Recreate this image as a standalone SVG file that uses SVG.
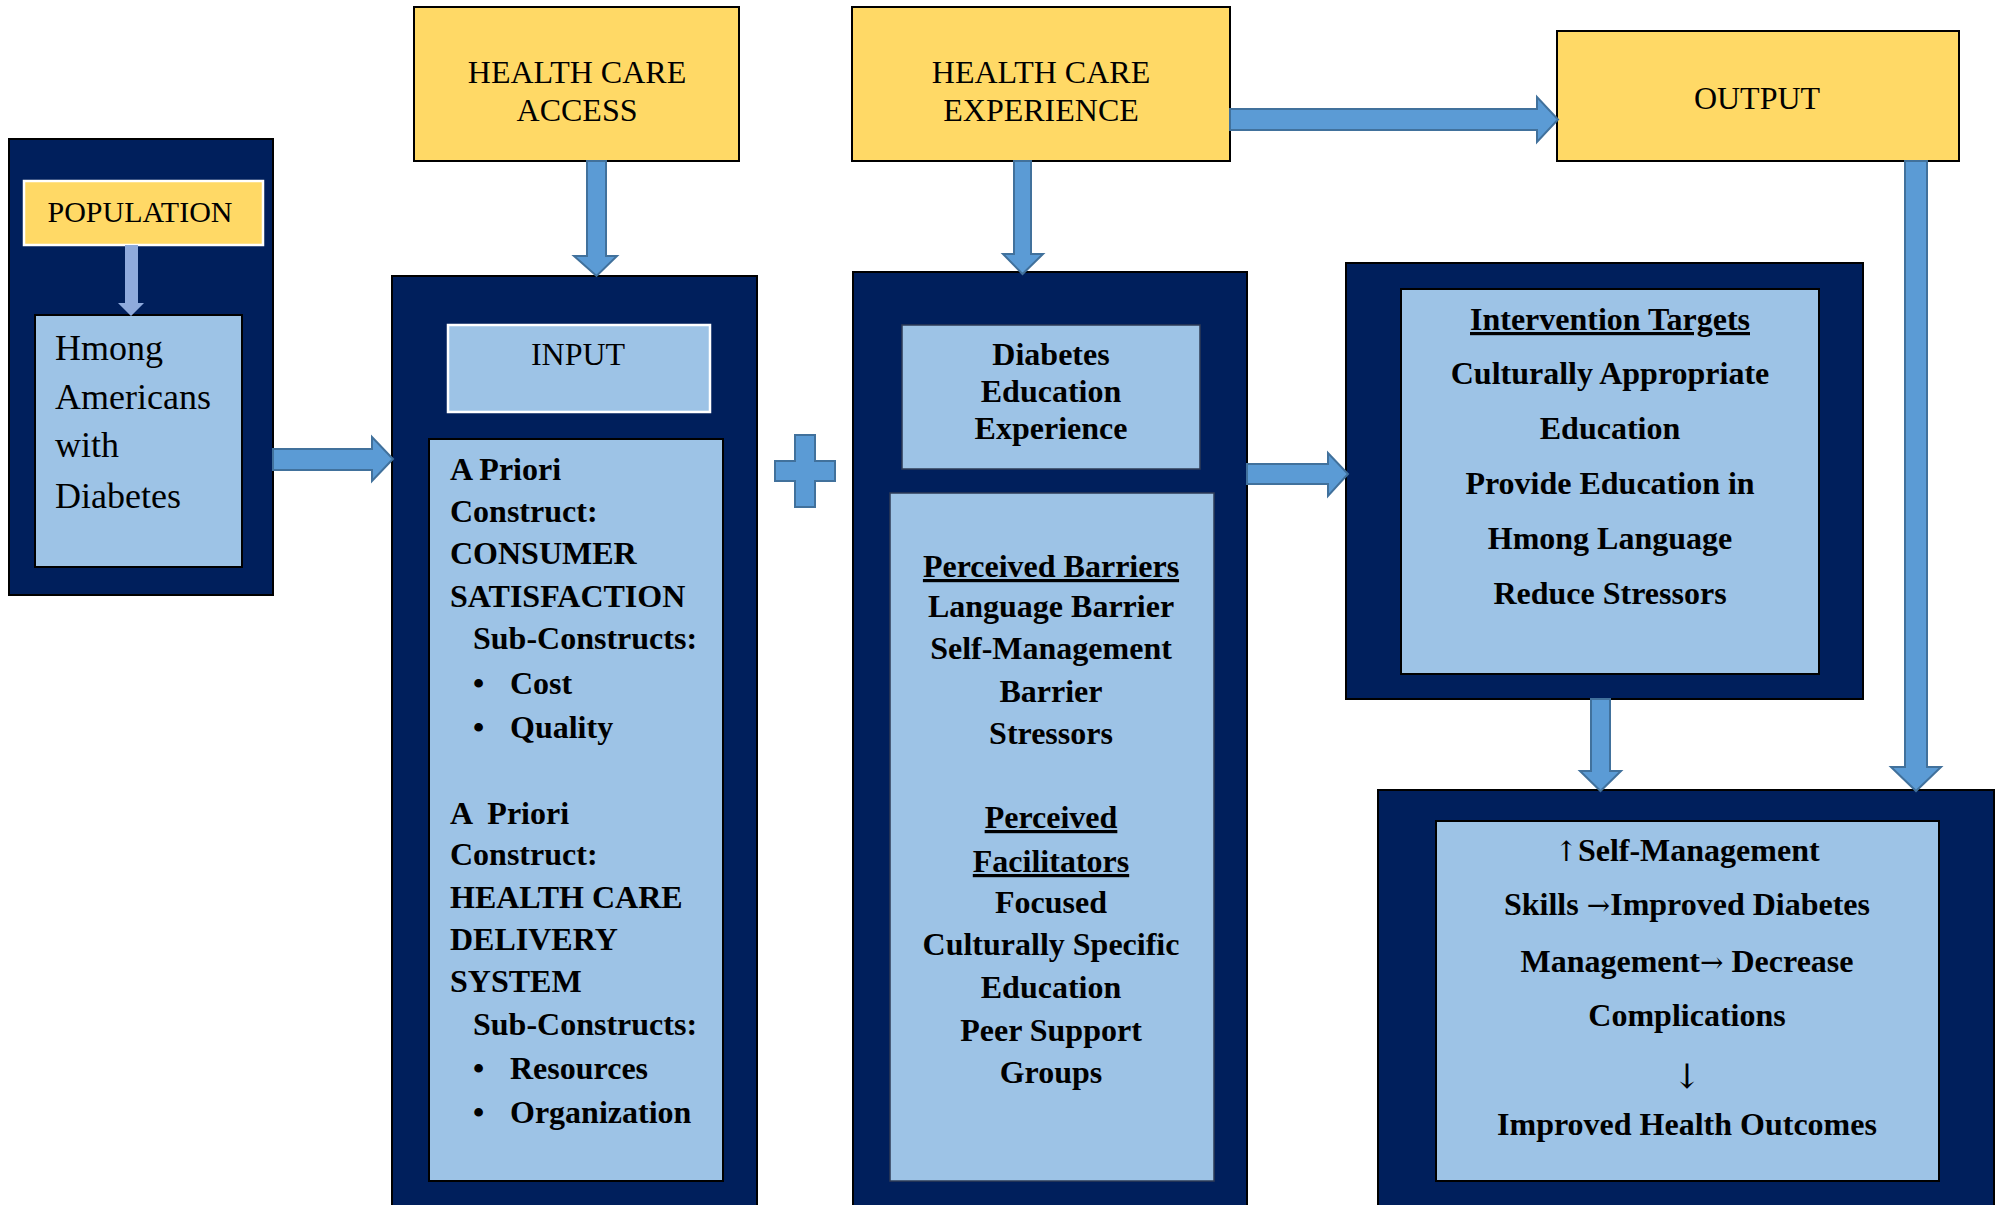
<svg xmlns="http://www.w3.org/2000/svg" width="2001" height="1205" viewBox="0 0 2001 1205">
<style>
.outer{fill:#001F5C;stroke:#000;stroke-width:2}
.inner{fill:#9DC3E6;stroke:#000;stroke-width:2}
.innerw{fill:#9DC3E6;stroke:#fff;stroke-width:2.5}
.yel{fill:#FFD966;stroke:#000;stroke-width:2}
.yelw{fill:#FFD966;stroke:#fff;stroke-width:2.5}
.arr{fill:#5B9BD5;stroke:#41719C;stroke-width:2}
.arrl{fill:#8FAADC}
text{font-family:"Liberation Serif","Times New Roman",serif;fill:#000}
.r{font-size:32px}
.b{font-size:32px;font-weight:bold}
.c{text-anchor:middle}
.u{text-decoration:underline}
.ar{font-family:"DejaVu Serif",serif;font-weight:normal}
</style>
<rect width="2001" height="1205" fill="#fff"/>

<g id="population">
<rect class="outer" x="9" y="139" width="264" height="456"/>
<rect class="yelw" x="24" y="181" width="239" height="64"/>
<text class="c" x="140" y="222" style="font-size:30px">POPULATION</text>
</g>
<g id="hmong">
<rect class="inner" x="35" y="315" width="207" height="252"/>
<text x="55" y="360" style="font-size:36px">Hmong</text>
<text x="55" y="409" style="font-size:36px">Americans</text>
<text x="55" y="457" style="font-size:36px">with</text>
<text x="55" y="508" style="font-size:36px">Diabetes</text>
</g>

<g id="health-care-access">
<rect class="yel" x="414" y="7" width="325" height="154"/>
<text class="r c" x="577" y="83">HEALTH CARE</text>
<text class="r c" x="577" y="121">ACCESS</text>
</g>

<g id="input">
<rect class="outer" x="392" y="276" width="365" height="935"/>
<rect class="innerw" x="448" y="325" width="262" height="87"/>
<text class="r c" x="578" y="365">INPUT</text>
</g>
<g id="input-constructs">
<rect class="inner" x="429" y="439" width="294" height="742"/>
<text class="b" x="450" y="480">A Priori</text>
<text class="b" x="450" y="522">Construct:</text>
<text class="b" x="450" y="564">CONSUMER</text>
<text class="b" x="450" y="607">SATISFACTION</text>
<text class="b" x="473" y="649">Sub-Constructs:</text>
<text class="b" x="473" y="694">•</text><text class="b" x="510" y="694">Cost</text>
<text class="b" x="473" y="738">•</text><text class="b" x="510" y="738">Quality</text>
<text class="b" x="450" y="824" xml:space="preserve">A  Priori</text>
<text class="b" x="450" y="865">Construct:</text>
<text class="b" x="450" y="908">HEALTH CARE</text>
<text class="b" x="450" y="950">DELIVERY</text>
<text class="b" x="450" y="992">SYSTEM</text>
<text class="b" x="473" y="1035">Sub-Constructs:</text>
<text class="b" x="473" y="1079">•</text><text class="b" x="510" y="1079">Resources</text>
<text class="b" x="473" y="1123">•</text><text class="b" x="510" y="1123">Organization</text>
</g>

<g id="plus">
<path class="arr" d="M795 435H815V461H835V481H815V507H795V481H775V461H795Z"/>
</g>

<g id="health-care-experience">
<rect class="yel" x="852" y="7" width="378" height="154"/>
<text class="r c" x="1041" y="83">HEALTH CARE</text>
<text class="r c" x="1041" y="121">EXPERIENCE</text>
</g>

<g id="experience">
<rect class="outer" x="853" y="272" width="394" height="939"/>
<rect x="902" y="325" width="298" height="144" fill="#9DC3E6" stroke="#2E3B55" stroke-width="1.5"/>
<text class="b c" x="1051" y="365">Diabetes</text>
<text class="b c" x="1051" y="402">Education</text>
<text class="b c" x="1051" y="439">Experience</text>
</g>
<g id="perceived">
<rect x="890" y="493" width="324" height="688" fill="#9DC3E6" stroke="#2E3B55" stroke-width="1.5"/>
<text class="b c u" x="1051" y="577">Perceived Barriers</text>
<text class="b c" x="1051" y="617">Language Barrier</text>
<text class="b c" x="1051" y="659">Self-Management</text>
<text class="b c" x="1051" y="702">Barrier</text>
<text class="b c" x="1051" y="744">Stressors</text>
<text class="b c u" x="1051" y="828">Perceived</text>
<text class="b c u" x="1051" y="872">Facilitators</text>
<text class="b c" x="1051" y="913">Focused</text>
<text class="b c" x="1051" y="955">Culturally Specific</text>
<text class="b c" x="1051" y="998">Education</text>
<text class="b c" x="1051" y="1041">Peer Support</text>
<text class="b c" x="1051" y="1083">Groups</text>
</g>

<g id="output">
<rect class="yel" x="1557" y="31" width="402" height="130"/>
<text class="r c" x="1757" y="109">OUTPUT</text>
</g>

<g id="intervention">
<rect class="outer" x="1346" y="263" width="517" height="436"/>
<rect class="inner" x="1401" y="289" width="418" height="385"/>
<text class="b c u" x="1610" y="330">Intervention Targets</text>
<text class="b c" x="1610" y="384">Culturally Appropriate</text>
<text class="b c" x="1610" y="439">Education</text>
<text class="b c" x="1610" y="494">Provide Education in</text>
<text class="b c" x="1610" y="549">Hmong Language</text>
<text class="b c" x="1610" y="604">Reduce Stressors</text>
</g>

<g id="outcomes">
<rect class="outer" x="1378" y="790" width="616" height="421"/>
<rect class="inner" x="1436" y="821" width="503" height="360"/>
<text class="b c" x="1687" y="861"><tspan class="ar" style="font-size:28px">↑</tspan>Self-Management</text>
<text class="b c" x="1687" y="915">Skills <tspan class="ar" style="font-size:28px">→</tspan>Improved Diabetes</text>
<text class="b c" x="1687" y="972">Management<tspan class="ar" style="font-size:28px">→</tspan> Decrease</text>
<text class="b c" x="1687" y="1026">Complications</text>
<text class="c ar" x="1687" y="1088" style="font-size:34px">↓</text>
<text class="b c" x="1687" y="1135">Improved Health Outcomes</text>
</g>

<g id="connectors">
<path class="arrl" d="M125 245H138V303H144L131 316L118 303H125Z"/>
<path class="arr" d="M273 449H372V437L393 459L372 481V470H273Z"/>
<path class="arr" d="M587 161H606V256H617L596.5 276L574 256H587Z"/>
<path class="arr" d="M1014 161H1031V254H1043L1022.5 274L1003 254H1014Z"/>
<path class="arr" d="M1230 109H1537V97L1558 119.5L1537 142V130H1230Z"/>
<path class="arr" d="M1247 464H1328V453L1348 474L1328 496V484H1247Z"/>
<path class="arr" d="M1905 161H1927V767H1941L1916 791L1891 767H1905Z"/>
<path class="arr" d="M1591 699H1610V771H1621L1600.5 791L1580 771H1591Z"/>
</g>
</svg>
